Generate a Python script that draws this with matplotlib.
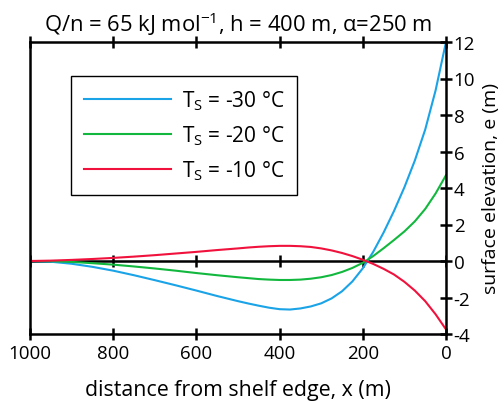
import numpy as np
import matplotlib
matplotlib.use('Agg')
import matplotlib.pyplot as plt

plt.rcParams['font.family'] = ['Open Sans', 'DejaVu Sans']
plt.rcParams['mathtext.fontset'] = 'custom'
plt.rcParams['mathtext.rm'] = 'Open Sans'
plt.rcParams['mathtext.default'] = 'regular'
plt.rcParams['axes.unicode_minus'] = False

# distance from shelf edge (m)
x = [1000, 950, 900, 850, 800, 750, 700, 650, 600, 550, 500, 475, 450, 425, 400,
     375, 350, 325, 300, 275, 250, 225, 200, 175, 150, 125, 100, 75, 50, 25, 0]

# surface elevation (m) for each surface temperature
e_m30 = [0, -0.04, -0.15, -0.32, -0.53, -0.78, -1.05, -1.33, -1.62, -1.92, -2.2, -2.33, -2.45, -2.56, -2.64,
         -2.66, -2.6, -2.49, -2.32, -2.05, -1.66, -1.12, -0.4, 0.5, 1.56, 2.74, 4.04, 5.5, 7.2, 9.35, 12.0]
e_m20 = [0, -0.01, -0.05, -0.12, -0.2, -0.3, -0.41, -0.53, -0.66, -0.78, -0.89, -0.94, -0.99, -1.02, -1.04,
         -1.04, -1.02, -0.97, -0.89, -0.77, -0.6, -0.38, -0.1, 0.27, 0.7, 1.15, 1.62, 2.17, 2.85, 3.7, 4.7]
e_m10 = [0, 0.02, 0.06, 0.11, 0.17, 0.24, 0.32, 0.41, 0.5, 0.6, 0.69, 0.74, 0.78, 0.81, 0.83,
         0.83, 0.81, 0.77, 0.69, 0.58, 0.44, 0.27, 0.07, -0.16, -0.43, -0.74, -1.14, -1.62, -2.2, -2.92, -3.75]

labels = ['T$_S$ = -30 °C', 'T$_S$ = -20 °C', 'T$_S$ = -10 °C']
colors = ['#1AA3E6', '#12B83E', '#F0123C']

xticks = [1000, 800, 600, 400, 200, 0]
yticks = [-4, -2, 0, 2, 4, 6, 8, 10, 12]

fig = plt.figure(figsize=(5.04, 4.02), dpi=100)
ax = fig.add_axes([30/504, 67/402, 416/504, 292/402])

for ys, lab, c in zip([e_m30, e_m20, e_m10], labels, colors):
    ax.plot(x, ys, color=c, lw=1.5, label=lab)

# zero line with its own tick marks
ax.axhline(0, color='black', lw=1.8, zorder=1)
ax.plot(xticks, [0]*len(xticks), ls='none', marker='|', ms=9, mew=1.8, color='black', zorder=1)

ax.set_xlim(1000, 0)
ax.set_ylim(-4, 12)
ax.set_xticks(xticks)
ax.set_yticks(yticks)

for s in ax.spines.values():
    s.set_linewidth(1.8)

ax.xaxis.set_ticks_position('both')
ax.tick_params(axis='x', direction='inout', length=9, width=1.8, labelsize=13.5, pad=3)
ax.yaxis.tick_right()
ax.yaxis.set_label_position('right')
ax.tick_params(axis='y', direction='inout', length=9, width=1.8, labelsize=13.5, pad=1)

ax.set_xlabel('distance from shelf edge, x (m)', fontsize=15.4, labelpad=12)
ax.set_ylabel('surface elevation, e (m)', fontsize=14, labelpad=5)
ax.set_title('Q/n = 65 kJ mol$^{-1}$, h = 400 m, α=250 m', fontsize=15.8, pad=8)

leg = ax.legend(loc='upper left', bbox_to_anchor=(41/416, 258/292), borderaxespad=0,
                fontsize=15, handlelength=4.2, handletextpad=0.55, labelspacing=0.55,
                fancybox=False, edgecolor='black', framealpha=1, borderpad=0.6)
leg.get_frame().set_linewidth(1.0)

fig.savefig('out.png', dpi=100)
